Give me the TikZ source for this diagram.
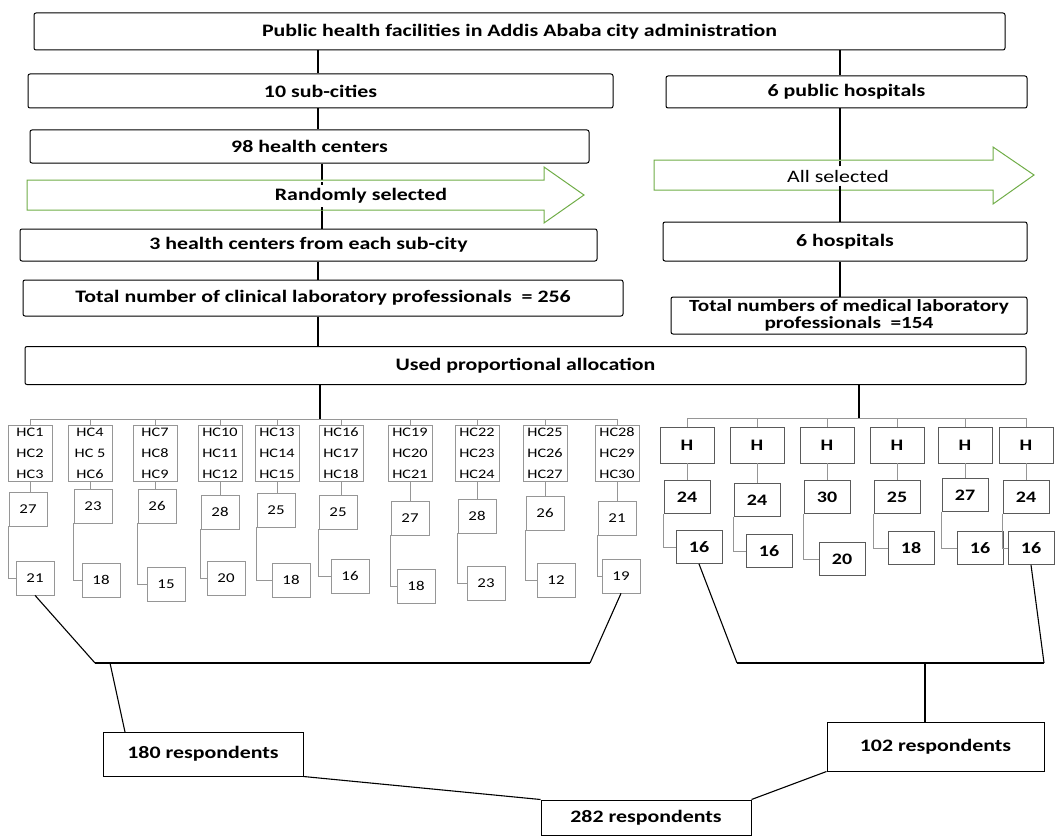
\documentclass[tikz,border=0pt]{standalone}
\usepackage{fontspec}
\setmainfont{Carlito}[FakeStretch=1.25]
\definecolor{arrowgreen}{RGB}{112,173,71}
\definecolor{boxgray}{RGB}{150,150,150}
\begin{document}
\begin{tikzpicture}[x=1pt,y=-1pt,
  conn/.style={line width=1.1pt},
  mainbox/.style={draw, line width=1pt, rounded corners=2pt, fill=white, font=\bfseries\fontsize{17.5}{19}\selectfont, align=center, inner sep=0pt},
  resbox/.style={draw, line width=1pt, fill=white, font=\bfseries\fontsize{17.5}{19}\selectfont, inner sep=0pt},
  hcbox/.style={draw=boxgray, line width=0.7pt, minimum width=44, minimum height=56, inner sep=0pt, align=center, font=\fontsize{13}{21}\selectfont},
  numbox/.style={draw=boxgray, line width=0.7pt, minimum width=38, minimum height=34, inner sep=0pt, font=\fontsize{13.5}{15}\selectfont},
  hbox/.style={draw=boxgray!60!black, line width=0.8pt, minimum width=54, minimum height=36, inner sep=0pt, font=\bfseries\fontsize{16}{18}\selectfont},
  hnum/.style={draw=boxgray!60!black, line width=0.8pt, minimum width=46, minimum height=33, inner sep=0pt, font=\bfseries\fontsize{16}{18}\selectfont},
  bus/.style={draw=boxgray, line width=0.8pt},
  greenarrow/.style={draw=arrowgreen, line width=1pt, fill=white}
]
\useasboundingbox (0,0) rectangle (1057,840);

% guide coordinates for vertical connectors
\coordinate (L1) at (318,0);
\coordinate (L2) at (322,0);
\coordinate (L3) at (318,0);
\coordinate (R1) at (840,0);

% main boxes
\node[mainbox, minimum width=971, minimum height=37] (top) at (519.5,31.5) {Public health facilities in Addis Ababa city administration};
\node[mainbox, minimum width=585, minimum height=34] (sub) at (320.5,91) {10 sub-cities};
\node[mainbox, minimum width=361, minimum height=32] (hosp) at (846.5,92) {6 public hospitals};
\node[mainbox, minimum width=559, minimum height=33] (hc98) at (309.5,146.5) {98 health centers};
\node[mainbox, minimum width=577, minimum height=32] (hc3) at (308.5,245) {3 health centers from each sub-city};
\node[mainbox, minimum width=364, minimum height=39] (hosp6) at (845,241.5) {6 hospitals};
\node[mainbox, minimum width=600, minimum height=36] (tot256) at (323,298) {Total number of clinical laboratory professionals~~= 256};
\node[mainbox, minimum width=356, minimum height=37, font=\bfseries\fontsize{17}{17.5}\selectfont] (tot154) at (849,315.5) {Total numbers of medical laboratory\\professionals~~=154};
\node[mainbox, minimum width=1001, minimum height=38] (used) at (525.5,365.5) {Used proportional allocation};

% tree connectors
\draw[conn] (top.south -| L1) -- (sub.north -| L1);
\draw[conn] (top.south -| R1) -- (hosp.north -| R1);
\draw[conn] (sub.south -| L1) -- (hc98.north -| L1);
\draw[conn] (hc98.south -| L2) -- (hc3.north -| L2);
\draw[conn] (hosp.south -| R1) -- (hosp6.north -| R1);
\draw[conn] (hc3.south -| L3) -- (tot256.north -| L3);
\draw[conn] (tot256.south -| L1) -- (used.north -| L1);
\draw[conn] (hosp6.south -| R1) -- (tot154.north -| R1);

% green arrows (drawn over the connectors)
\draw[greenarrow] (27,180) -- (544,180) -- (544,167) -- (584,195) -- (544,223) -- (544,210) -- (27,210) -- cycle;
\draw[greenarrow] (654,160) -- (993,160) -- (993,147) -- (1034,175) -- (993,204) -- (993,190) -- (654,190) -- cycle;
\node[font=\bfseries\fontsize{17.5}{19}\selectfont] (rand) at (361,196) {Randomly selected};
\node[font=\fontsize{17.5}{19}\selectfont] (allsel) at (838,176) {All selected};
\draw[conn] (rand.north -| L2) -- ++(0,-3);
\draw[conn] (rand.south -| L2) -- ++(0,3);
\draw[conn] (allsel.north -| R1) -- ++(0,-5);
\draw[conn] (allsel.south -| R1) -- ++(0,5);

% left bus (health centers)
\coordinate (lbA) at (30,419);
\coordinate (lbB) at (617,419);
\coordinate (lj) at (320,419);
\draw[bus] (lbA) -- (lbB);
\draw[conn] (used.south -| lj) -- (lj);

\foreach \n/\cx/\a/\b/\c/\mv/\mx/\my/\bv/\bx/\by in {
  1/30/HC1/HC2/HC3/27/28/509/21/35/578,
  2/90/HC4/HC 5/HC6/23/93/506/18/101/580,
  3/155/HC7/HC8/HC9/26/157/506/15/166/584,
  4/220/HC10/HC11/HC12/28/220/512/20/226/578,
  5/277/HC13/HC14/HC15/25/276/510/18/291/580,
  6/341/HC16/HC17/HC18/25/338/512/16/350/576,
  7/410/HC19/HC20/HC21/27/410/518/18/416/586,
  8/477/HC22/HC23/HC24/28/477/516/23/486/583,
  9/545/HC25/HC26/HC27/26/545/513/12/556/580,
  10/617/HC28/HC29/HC30/21/617/518/19/621/576}{
  \node[hcbox] (hc\n) at (\cx,453) {\a\\\b\\\c};
  \node[numbox] (m\n) at (\mx,\my) {\mv};
  \node[numbox] (b\n) at (\bx,\by) {\bv};
  \coordinate (lt\n) at (\cx,419);
  \draw[bus] (lt\n) -- (hc\n.north);
  \draw[bus] (hc\n.south) -- (hc\n.south |- m\n.north);
  \draw[bus] (m\n.south west) |- (b\n.west);
}

% right bus (hospitals)
\coordinate (rbA) at (687,418);
\coordinate (rbB) at (1026,418);
\coordinate (rj) at (859,418);
\draw[bus] (rbA) -- (rbB);
\draw[conn] (used.south -| rj) -- (rj);

\foreach \n/\cx/\mv/\mx/\my/\bv/\bx/\by in {
  1/687/24/687/497/16/699/547,
  2/757/24/757/500/16/769/551,
  3/827/30/827/497/20/842/559,
  4/897/25/897/497/18/911/548,
  5/965/27/965/495/16/980/548,
  6/1026/24/1026/497/16/1031/548}{
  \node[hbox] (h\n) at (\cx,445) {H};
  \node[hnum] (hm\n) at (\mx,\my) {\mv};
  \node[hnum] (hb\n) at (\bx,\by) {\bv};
  \coordinate (rt\n) at (\cx,418);
  \draw[bus] (rt\n) -- (h\n.north);
  \draw[bus] (h\n.south) -- (h\n.south |- hm\n.north);
  \draw[bus] (hm\n.south west) |- (hb\n.west);
}

% lower section
\node[resbox, minimum width=200, minimum height=44] (r180) at (203,754) {180 respondents};
\node[resbox, minimum width=217, minimum height=49] (r102) at (935.5,746.5) {102 respondents};
\node[resbox, minimum width=210, minimum height=35] (r282) at (646,817.5) {282 respondents};

\coordinate (lbarL) at (95,663);
\coordinate (lbarR) at (590,663);
\coordinate (lbarJ) at (110,663);
\coordinate (r180t) at (125,732);
\draw[conn] (lbarL) -- (lbarR);
\draw[conn] (b1.south) -- (lbarL);
\draw[conn] (b10.south) -- (lbarR);
\draw[conn] (lbarJ) -- (r180t);

\coordinate (rbarL) at (737,663);
\coordinate (rbarR) at (1044,663);
\coordinate (rbarJ) at (925,663);
\draw[conn] (rbarL) -- (rbarR);
\draw[conn] (hb1.south) -- (rbarL);
\draw[conn] (hb6.south) -- (rbarR);
\draw[conn] (rbarJ) -- (rbarJ |- r102.north);

\draw[conn] (r180.south east) -- (r282.north west);
\draw[conn] (r102.south west) -- (r282.north east);
\end{tikzpicture}
\end{document}
